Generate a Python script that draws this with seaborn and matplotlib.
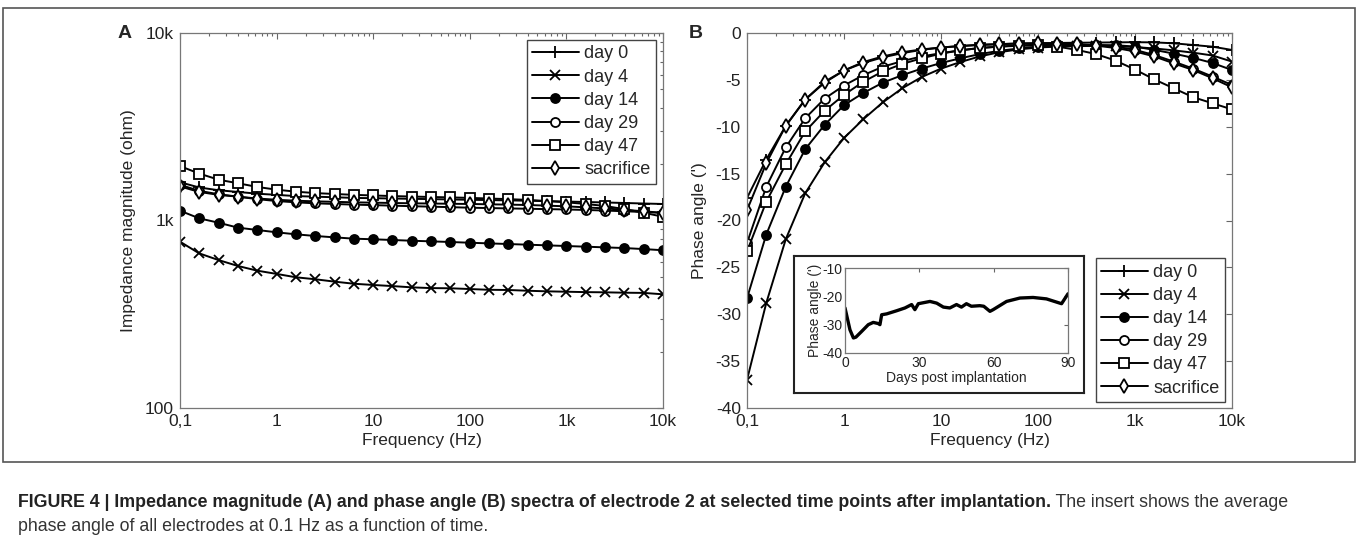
import seaborn as sns
import matplotlib.pyplot as plt
from matplotlib.ticker import FixedLocator, FuncFormatter, LogLocator, NullFormatter

sns.set_style('white')
plt.rcParams['font.family'] = ['Liberation Sans', 'DejaVu Sans']
plt.rcParams['axes.unicode_minus'] = False

# frequency grid (Hz), 5 points per decade
freq = [0.1, 0.158, 0.251, 0.398, 0.631, 1, 1.58, 2.51, 3.98, 6.31, 10, 15.8, 25.1,
        39.8, 63.1, 100, 158, 251, 398, 631, 1000, 1580, 2510, 3980, 6310, 10000]
series = ['day 0', 'day 4', 'day 14', 'day 29', 'day 47', 'sacrifice']

# impedance magnitude (ohm)
mag_day0 = [1600, 1500, 1450, 1420, 1390, 1370, 1350, 1340, 1330, 1320, 1315, 1310, 1305,
            1300, 1295, 1290, 1285, 1280, 1275, 1268, 1262, 1255, 1248, 1240, 1232, 1225]
mag_day4 = [771, 668, 615, 572, 540, 519, 498, 486, 472, 460, 453, 447, 440,
            436, 435, 431, 427, 426, 422, 419, 417, 415, 414, 412, 411, 404]
mag_day14 = [1128, 1027, 973, 916, 890, 865, 844, 827, 813, 800, 794, 787, 780,
             774, 768, 761, 755, 749, 743, 737, 731, 725, 719, 713, 704, 694]
mag_day29 = [1550, 1440, 1380, 1340, 1300, 1270, 1250, 1235, 1225, 1215, 1208, 1200, 1192,
             1185, 1178, 1170, 1165, 1160, 1155, 1150, 1145, 1138, 1130, 1120, 1110, 1098]
mag_day47 = [1950, 1780, 1650, 1580, 1510, 1460, 1425, 1400, 1385, 1370, 1360, 1350, 1342,
             1335, 1328, 1320, 1310, 1300, 1288, 1270, 1250, 1225, 1195, 1150, 1100, 1047]
mag_sacr = [1520, 1420, 1370, 1340, 1310, 1290, 1275, 1265, 1258, 1250, 1245, 1240, 1235,
            1232, 1228, 1225, 1220, 1215, 1210, 1200, 1190, 1175, 1160, 1140, 1120, 1098]

# phase angle (degrees)
ph_day0 = [-17.6, -13.5, -9.9, -7.1, -5.3, -4.0, -3.1, -2.5, -2.05, -1.75, -1.55, -1.4, -1.28,
           -1.2, -1.12, -1.08, -1.06, -1.04, -1.02, -1.0, -0.98, -1.0, -1.1, -1.28, -1.46, -1.81]
ph_day4 = [-37.0, -28.8, -22.0, -17.1, -13.8, -11.2, -9.2, -7.4, -5.9, -4.7, -3.8, -3.1, -2.5,
           -2.05, -1.75, -1.55, -1.45, -1.4, -1.38, -1.4, -1.5, -1.65, -1.85, -2.1, -2.4, -3.05]
ph_day14 = [-28.3, -21.5, -16.4, -12.4, -9.8, -7.7, -6.4, -5.3, -4.5, -3.8, -3.2, -2.7, -2.25,
            -1.9, -1.65, -1.45, -1.35, -1.28, -1.28, -1.3, -1.45, -1.8, -2.2, -2.65, -3.2, -3.95]
ph_day29 = [-22.4, -16.4, -12.2, -9.1, -7.0, -5.6, -4.5, -3.6, -3.0, -2.5, -2.15, -1.85, -1.6,
            -1.45, -1.32, -1.25, -1.22, -1.22, -1.3, -1.45, -1.8, -2.35, -3.05, -3.8, -4.65, -5.55]
ph_day47 = [-23.3, -18.0, -14.0, -10.5, -8.3, -6.6, -5.2, -4.1, -3.3, -2.7, -2.2, -1.85, -1.6,
            -1.45, -1.37, -1.33, -1.45, -1.8, -2.25, -2.95, -3.9, -4.95, -5.9, -6.85, -7.5, -8.15]
ph_sacr = [-18.9, -13.9, -9.9, -7.1, -5.2, -4.0, -3.2, -2.6, -2.15, -1.8, -1.55, -1.38, -1.25,
           -1.18, -1.12, -1.1, -1.12, -1.2, -1.35, -1.6, -1.97, -2.5, -3.24, -3.95, -4.83, -5.8]

# insert: mean phase angle at 0.1 Hz vs days post implantation
ins_days = [0, 2, 3.4, 4.4, 6.7, 9.4, 11.4, 13.4, 14.1, 14.8, 16.8, 20.8, 24.2, 26.9, 28.2,
            29.6, 34.3, 37, 39.7, 42.3, 45, 47, 49, 51, 54.4, 56, 58.5, 59.8, 65.2, 70.6,
            75.9, 81.3, 87.4, 90]
ins_phase = [-24.1, -31.8, -34.7, -34.4, -32.4, -30, -29.2, -29.6, -30, -26.5, -26.2, -25.1,
             -24.1, -22.9, -24.7, -22.6, -21.8, -22.4, -23.8, -24.1, -22.9, -23.8, -22.6,
             -23.5, -23.3, -23.5, -25.3, -24.7, -21.8, -20.6, -20.4, -20.9, -22.6, -19.1]

mags = [mag_day0, mag_day4, mag_day14, mag_day29, mag_day47, mag_sacr]
phases = [ph_day0, ph_day4, ph_day14, ph_day29, ph_day47, ph_sacr]
styles = [('+', 'k', 9), ('x', 'k', 7), ('o', 'k', 6.5),
          ('o', 'white', 6.5), ('s', 'white', 6.5), ('d', 'white', 7)]

W, H = 1358, 540
fig = plt.figure(figsize=(W / 100, H / 100), dpi=100)


def box(x0, y0, x1, y1):
    return [x0 / W, 1 - y1 / H, (x1 - x0) / W, (y1 - y0) / H]


ax_a = fig.add_axes(box(180, 33, 663, 408))
ax_b = fig.add_axes(box(747, 33, 1232, 408))

for ax, data in [(ax_a, mags), (ax_b, phases)]:
    for name, vals, (m, fc, ms) in zip(series, data, styles):
        sns.lineplot(x=freq, y=vals, ax=ax, color='k', lw=1.4, marker=m, ms=ms,
                     mfc=fc, mec='k', mew=1.3, label=name, sort=False)


def freq_fmt(v, pos):
    return {0.1: '0,1', 1: '1', 10: '10', 100: '100', 1000: '1k', 10000: '10k'}.get(round(v, 1), '')


for ax in (ax_a, ax_b):
    ax.set_xscale('log')
    ax.set_xlim(0.1, 10000)
    ax.xaxis.set_major_locator(FixedLocator([0.1, 1, 10, 100, 1000, 10000]))
    ax.xaxis.set_major_formatter(FuncFormatter(freq_fmt))
    ax.xaxis.set_minor_locator(LogLocator(base=10, subs=range(2, 10), numticks=20))
    ax.xaxis.set_minor_formatter(NullFormatter())
    ax.set_xlabel('Frequency (Hz)', fontsize=12.5, labelpad=3)
    ax.tick_params(which='both', direction='in', top=True, right=True, color='#666',
                   labelcolor='#222', labelsize=12.5, width=0.8)
    ax.tick_params(which='major', length=4, pad=4.5)
    ax.tick_params(which='minor', length=2.5)
    for s in ax.spines.values():
        s.set_color('#777')
        s.set_linewidth(0.9)

ax_a.set_yscale('log')
ax_a.set_ylim(100, 10000)
ax_a.yaxis.set_major_locator(FixedLocator([100, 1000, 10000]))
ax_a.yaxis.set_major_formatter(FuncFormatter(lambda v, p: {100: '100', 1000: '1k', 10000: '10k'}.get(int(round(v)), '')))
ax_a.yaxis.set_minor_locator(LogLocator(base=10, subs=range(2, 10), numticks=20))
ax_a.yaxis.set_minor_formatter(NullFormatter())
ax_a.set_ylabel('Impedance magnitude (ohm)', fontsize=12.5, labelpad=6)

ax_b.set_ylim(-40, 0)
ax_b.set_yticks(range(-40, 1, 5))
ax_b.set_ylabel("Phase angle (')", fontsize=12.5, labelpad=6)

leg_kw = dict(fontsize=13, frameon=True, fancybox=False, edgecolor='#444', framealpha=1,
              handlelength=2.6, handletextpad=0.3, labelspacing=0.34, borderpad=0.3,
              borderaxespad=0, bbox_transform=fig.transFigure)
la = ax_a.legend(loc='upper right', bbox_to_anchor=(656 / W, 1 - 40 / H), **leg_kw)
lb = ax_b.legend(loc='lower right', bbox_to_anchor=(1225 / W, 1 - 402 / H), **leg_kw)
for lg in (la, lb):
    lg.get_frame().set_linewidth(1.0)

# insert
frame = fig.add_axes(box(794, 256, 1084, 393), zorder=3)
frame.set_xticks([])
frame.set_yticks([])
for s in frame.spines.values():
    s.set_color('#222')
    s.set_linewidth(1.5)
ins = fig.add_axes(box(845, 268, 1068, 353), zorder=4)
sns.lineplot(x=ins_days, y=ins_phase, ax=ins, color='k', lw=2.4, sort=False)
ins.set_xlim(0, 90)
ins.set_ylim(-40, -10)
ins.set_xticks([0, 30, 60, 90])
ins.set_yticks([-40, -30, -20, -10])
ins.tick_params(direction='in', top=True, right=True, length=3, color='#666',
                labelcolor='#222', labelsize=10, pad=2, width=0.8)
ins.set_xlabel('Days post implantation', fontsize=10, labelpad=1)
ins.set_ylabel("Phase angle (')", fontsize=10, labelpad=0)
for s in ins.spines.values():
    s.set_color('#777')
    s.set_linewidth(0.9)

fig.text(118 / W, 1 - 34 / H, 'A', fontsize=14, fontweight='bold', va='center', ha='left')
fig.text(689 / W, 1 - 34 / H, 'B', fontsize=14, fontweight='bold', va='center', ha='left')

# outer figure frame
fig.patches.append(plt.Rectangle((3 / W, 1 - 462 / H), 1352 / W, 454 / H, transform=fig.transFigure,
                                 fill=False, edgecolor='#555', lw=1.2))

# caption
cap = fig.add_axes([0, 0, 1, 1], zorder=-1)
cap.axis('off')
bold = cap.text(18 / W, 1 - 507 / H,
                'FIGURE 4 | Impedance magnitude (A) and phase angle (B) spectra of electrode 2 '
                'at selected time points after implantation.',
                fontsize=12.8, fontweight='bold', color='#222', va='baseline')
cap.annotate(' The insert shows the average', xy=(1, 0), xycoords=bold, xytext=(0, 0),
             textcoords='offset points', fontsize=12.8, color='#333',
             va='bottom', ha='left')
cap.text(18 / W, 1 - 531 / H, 'phase angle of all electrodes at 0.1 Hz as a function of time.',
         fontsize=12.8, color='#333', va='baseline')

fig.savefig('out.png', dpi=100)
